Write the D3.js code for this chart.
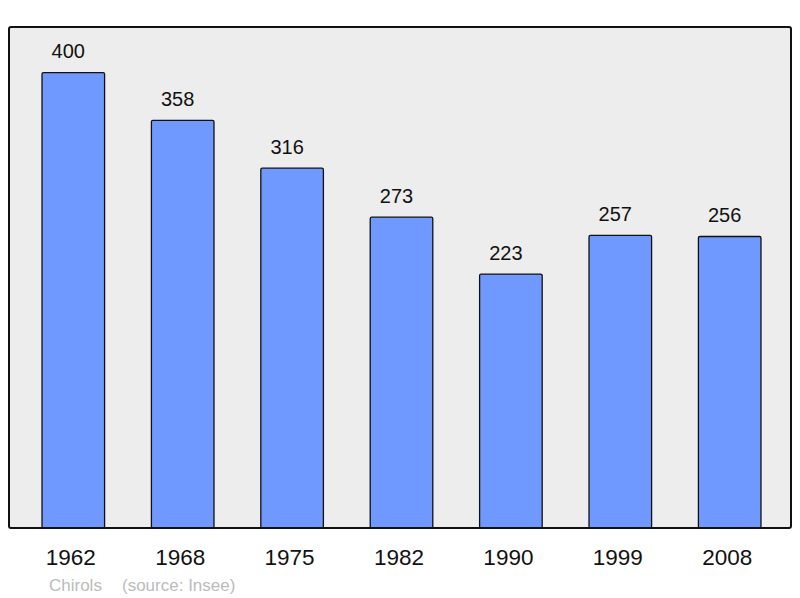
<!DOCTYPE html>
<html>
<head>
<meta charset="utf-8">
<script src="https://cdn.jsdelivr.net/npm/d3@7"></script>
<style>
  body { margin: 0; background: #fff; }
  text { font-family: "Liberation Sans", Arial, sans-serif; }
</style>
</head>
<body>
<div id="chart"></div>
<script>
// population data, Chirols
var years = ["1962", "1968", "1975", "1982", "1990", "1999", "2008"];
var population = [400, 358, 316, 273, 223, 257, 256];
var commune = "Chirols";
var source = "(source: Insee)";

var svgWidth = 800;
var svgHeight = 598;

var frame = { left: 9, top: 27, right: 791, bottom: 528 };

var svg = d3.select("#chart")
    .append("svg")
    .attr("width", svgWidth)
    .attr("height", svgHeight);

var xScale = d3.scaleBand()
    .domain(years)
    .range([18.6, 784.4])
    .paddingInner(0.428)
    .paddingOuter(0.214);

var yScale = d3.scaleLinear()
    .domain([0, 440])
    .range([frame.bottom, frame.top]);

// plot background
svg.append("rect")
    .attr("x", frame.left)
    .attr("y", frame.top)
    .attr("width", frame.right - frame.left)
    .attr("height", frame.bottom - frame.top)
    .attr("rx", 2)
    .attr("fill", "#ededed");

svg.selectAll(".bar")
    .data(population)
    .enter()
    .append("rect")
    .attr("class", "bar")
    .attr("x", (d, i) => xScale(years[i]))
    .attr("y", d => yScale(d))
    .attr("width", xScale.bandwidth())
    .attr("height", d => yScale(0) - yScale(d))
    .attr("rx", 1.5)
    .attr("fill", "#7099ff")
    .attr("stroke", "#111")
    .attr("stroke-width", 1.3);

svg.selectAll(".val")
    .data(population)
    .enter()
    .append("text")
    .attr("class", "val")
    .attr("x", (d, i) => xScale(years[i]) + xScale.bandwidth() / 2 - 5)
    .attr("y", d => yScale(d) - 14.5)
    .attr("text-anchor", "middle")
    .style("font-size", "20px")
    .attr("fill", "#111")
    .text(d => d);

// frame on top of the bars
svg.append("rect")
    .attr("x", frame.left)
    .attr("y", frame.top)
    .attr("width", frame.right - frame.left)
    .attr("height", frame.bottom - frame.top)
    .attr("rx", 2)
    .attr("fill", "none")
    .attr("stroke", "#111")
    .attr("stroke-width", 2);

var xAxis = d3.axisBottom(xScale).tickSize(0).tickPadding(0);
var axisG = svg.append("g")
    .attr("transform", `translate(0, ${frame.bottom})`)
    .call(xAxis);
axisG.select(".domain").remove();
axisG.selectAll("text")
    .attr("dy", null)
    .attr("x", -2.5)
    .attr("y", 36.5)
    .attr("fill", "#111")
    .style("font-size", "22.5px")
    .style("font-family", "'Liberation Sans', Arial, sans-serif");

svg.append("text")
    .attr("x", 49)
    .attr("y", 590.5)
    .attr("fill", "#bbb")
    .style("font-size", "17px")
    .text(commune);

svg.append("text")
    .attr("x", 122)
    .attr("y", 590.5)
    .attr("fill", "#bbb")
    .style("font-size", "17px")
    .text(source);
</script>
</body>
</html>
